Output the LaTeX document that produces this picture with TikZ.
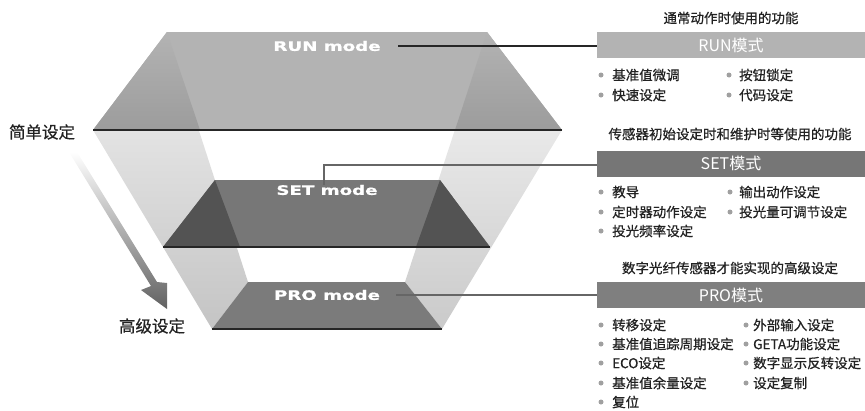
\documentclass[tikz,border=0pt]{standalone}
\usepackage{fontspec}
\usepackage{graphicx}
\setmainfont{Noto Sans CJK SC}
\newfontfamily\cjkb{Noto Sans CJK SC}[FakeBold=0.7]
\newfontfamily\modefont{DejaVu Sans Bold}[FakeBold=0.8]
\definecolor{runc}{HTML}{B3B3B3}
\definecolor{runshade}{HTML}{9C9C9C}
\definecolor{setc}{HTML}{777777}
\definecolor{setshade}{HTML}{535353}
\definecolor{proc}{HTML}{7B7B7B}
\definecolor{setbox}{HTML}{767676}
\definecolor{probox}{HTML}{7F7F7F}
\definecolor{txt}{HTML}{222222}
\definecolor{bulc}{HTML}{A0A0A0}
\definecolor{walltop}{HTML}{F2F2F2}
\definecolor{wallbot}{HTML}{C4C4C4}
\definecolor{rwalltop}{HTML}{F8F8F8}
\definecolor{rwallbot}{HTML}{CACACA}
\begin{document}
\begin{tikzpicture}[x=1pt,y=-1pt,
  title/.style={font=\cjkb\fontsize{13.5}{16}\selectfont, text=txt, inner sep=0},
  item/.style={anchor=west, font=\cjkb\fontsize{13.5}{16}\selectfont, text=txt, inner sep=0},
  bul/.style={circle, fill=bulc, inner sep=0, minimum size=5pt},
  modebox/.style={minimum width=268pt, minimum height=26pt, inner sep=0, text=white, font=\fontsize{16}{18}\selectfont},
  modelbl/.style={text=white, font=\modefont\fontsize{13}{14}\selectfont, inner sep=0},
  sidelbl/.style={font=\cjkb\fontsize{16.5}{18}\selectfont, text=txt, inner sep=0},
  edgeline/.style={line width=1.6pt, black!85},
  leader/.style={line width=1.3pt}
]
\useasboundingbox (0,0) rectangle (865,410);
% walls (behind)
\shade[top color=walltop, bottom color=wallbot] (167,32) -- (248,282) -- (212,329) -- (93,130) -- cycle;
\shade[top color=rwalltop, bottom color=rwallbot] (487,32) -- (405,282) -- (442,329) -- (562,130) -- cycle;
% RUN plane
\fill[runc] (167,32) -- (487,32) -- (562,130) -- (93,130) -- cycle;
\shade[top color=runc, bottom color=runshade] (167,32) -- (93,130) -- (200,130) -- cycle;
\shade[top color=runc, bottom color=runshade] (487,32) -- (562,130) -- (455,130) -- cycle;
\draw[edgeline] (93,130) -- (562,130);
% SET plane
\fill[setc] (215,180) -- (440,180) -- (490,247) -- (163,247) -- cycle;
\fill[setshade] (215,180) -- (163,247) -- (240,247) -- cycle;
\fill[setshade] (440,180) -- (490,247) -- (416,247) -- cycle;
\draw[edgeline] (163,247) -- (490,247);
% PRO plane
\fill[proc] (248,282) -- (405,282) -- (442,329) -- (212,329) -- cycle;
\draw[edgeline] (212,329) -- (442,329);
% mode labels
\node[modelbl] (runlbl) at (327,46) {\scalebox{1.4}[1]{RUN mode}};
\node[modelbl] (setlbl) at (327,190) {\scalebox{1.4}[1]{SET mode}};
\node[modelbl] (prolbl) at (327,295) {\scalebox{1.4}[1]{PRO mode}};
% side labels and arrow
\node[sidelbl] (easy) at (42,132) {简单设定};
\node[sidelbl] (adv) at (152,326) {高级设定};
\shade[top color=white, bottom color=black!62]
  (69,152) -- (151,286) -- (141,290) -- (167,309) -- (167,283) -- (157,282) -- (77,152) -- cycle;
% boxes
\node[modebox, fill=runc] (runbox) at (731,45) {RUN模式};
\node[modebox, fill=setbox] (setbox) at (731,163.5) {SET模式};
\node[modebox, fill=probox] (probox) at (731,295) {PRO模式};
% leaders
\coordinate (runA) at (398,46);
\coordinate (setA) at (324,185);
\coordinate (setB) at (324,165);
\coordinate (proA) at (396,295);
\draw[leader, black!85] (runA) -- (runA -| runbox.west);
\draw[leader, black!60] (setA) -- (setB) -- (setB -| setbox.west);
\draw[leader, black!60] (proA) -- (proA -| probox.west);
% titles
\node[title] (t1) at (731,18) {通常动作时使用的功能};
\node[title] (t2) at (730,134) {传感器初始设定时和维护时等使用的功能};
\node[title] (t3) at (730,268) {数字光纤传感器才能实现的高级设定};
% RUN items
\node[bul] (rb1) at (601,75) {}; \node[item] (ri1) at (612,75) {基准值微调};
\node[bul] (rb2) at (729,75) {}; \node[item] (ri2) at (739,75) {按钮锁定};
\node[bul] (rb3) at (601,95) {}; \node[item] (ri3) at (612,95) {快速设定};
\node[bul] (rb4) at (729,95) {}; \node[item] (ri4) at (739,95) {代码设定};
% SET items
\node[bul] (sb1) at (601,192) {}; \node[item] (si1) at (612,192) {教导};
\node[bul] (sb2) at (730,192) {}; \node[item] (si2) at (739,192) {输出动作设定};
\node[bul] (sb3) at (601,212) {}; \node[item] (si3) at (612,212) {定时器动作设定};
\node[bul] (sb4) at (730,212) {}; \node[item] (si4) at (739,212) {投光量可调节设定};
\node[bul] (sb5) at (601,231) {}; \node[item] (si5) at (612,231) {投光频率设定};
% PRO items
\node[bul] (pb1) at (601,325) {}; \node[item] (pi1) at (612,325) {转移设定};
\node[bul] (pb2) at (746,325) {}; \node[item] (pi2) at (753,325) {外部输入设定};
\node[bul] (pb3) at (601,344) {}; \node[item] (pi3) at (612,344) {基准值追踪周期设定};
\node[bul] (pb4) at (746,344) {}; \node[item] (pi4) at (753,344) {GETA功能设定};
\node[bul] (pb5) at (601,363) {}; \node[item] (pi5) at (612,363) {ECO设定};
\node[bul] (pb6) at (746,363) {}; \node[item] (pi6) at (753,363) {数字显示反转设定};
\node[bul] (pb7) at (601,383) {}; \node[item] (pi7) at (612,383) {基准值余量设定};
\node[bul] (pb8) at (746,383) {}; \node[item] (pi8) at (753,383) {设定复制};
\node[bul] (pb9) at (601,402) {}; \node[item] (pi9) at (612,402) {复位};
\end{tikzpicture}
\end{document}
